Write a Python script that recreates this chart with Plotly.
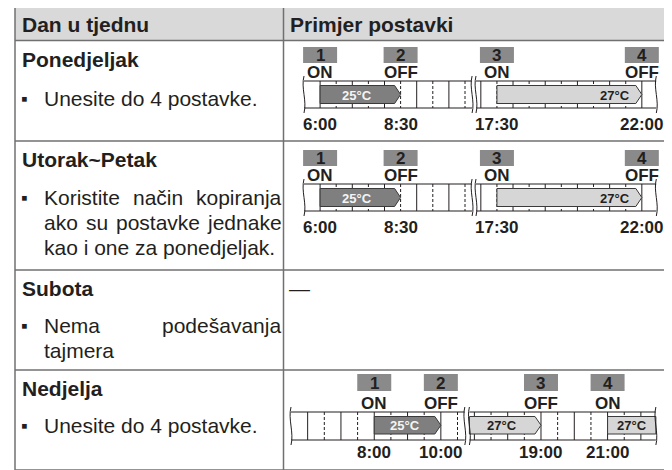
import plotly.graph_objects as go

W, H = 672, 470

# ---------------- data ----------------
header_labels = ["Dan u tjednu", "Primjer postavki"]
day_titles = ["Ponedjeljak", "Utorak~Petak", "Subota", "Nedjelja"]
day_notes = [
    ["Unesite do 4 postavke."],
    ["Koristite način kopiranja", "ako su postavke jednake", "kao i one za ponedjeljak."],
    ["Nema podešavanja", "tajmera"],
    ["Unesite do 4 postavke."],
]
saturday_example = "—"

setting_numbers = ["1", "2", "3", "4"]

weekday_times = [6.0, 8.5, 17.5, 22.0]
weekday_time_labels = ["6:00", "8:30", "17:30", "22:00"]
weekday_actions = ["ON", "OFF", "ON", "OFF"]
weekday_run_start = [6.0, 17.5]
weekday_run_end = [8.5, 22.0]
weekday_run_temp = ["25°C", "27°C"]

sunday_times = [8.0, 10.0, 19.0, 21.0]
sunday_time_labels = ["8:00", "10:00", "19:00", "21:00"]
sunday_actions = ["ON", "OFF", "OFF", "ON"]
sunday_run_start = [8.0, None, 21.0]   # None: already running at the start of the visible window
sunday_run_end = [10.0, 19.0, None]    # None: still running at the end of the visible window
sunday_run_temp = ["25°C", "27°C", "27°C"]

# visible parts of the day (hours) on either side of the break
left_window = [5.5, 10.72]
right_window = [16.85, 22.45]

# ---------------- style ----------------
FONT = "Liberation Sans, Arial, Helvetica, sans-serif"
TEXT = "#231f20"
BORDER = "#707070"
HEADER_FILL = "#d9d9d9"
BOX_FILL = "#8a8a8a"
DARK_FILL = "#7f7f7f"
LIGHT_FILL = "#d6d6d6"
EDGE = "#3a3a3a"
LINE = "#231f20"

TITLE_SIZE = 21
BODY_SIZE = 21
DIAG_SIZE = 17
NUM_SIZE = 17
TEMP_SIZE = 13

# the page places the figure 8 px from the top-left corner of the window
OFF = 8

table_x = [15, 283.5, 665]
row_lines = [7, 40.5, 141, 270, 370, 470]
header_y = 24
title_y = [59, 159, 288, 388]
note_y = [[98], [197, 222, 247], [325, 350], [425]]
text_left = 20
note_left = 42
note_right = 279

# time-axis segments: window-pixel position of window start and pixels per hour
segments = {
    "x2": dict(w=left_window, p0=304.0, pxh=32.2),
    "x3": dict(w=right_window, p0=476.0, pxh=32.2),
    "x4": dict(w=left_window, p0=291.0, pxh=33.3),
    "x5": dict(w=right_window, p0=469.4, pxh=33.3),
}

diagrams = [
    dict(axes=("x2", "x3"), times=weekday_times, labels=weekday_time_labels,
         actions=weekday_actions, rs=weekday_run_start, re=weekday_run_end,
         rt=weekday_run_temp, temp_align=["center", "right"],
         box_top=47, box_h=16, act_y=72, bar=(81, 108), arr=(85.5, 103.5), lab_y=124),
    dict(axes=("x2", "x3"), times=weekday_times, labels=weekday_time_labels,
         actions=weekday_actions, rs=weekday_run_start, re=weekday_run_end,
         rt=weekday_run_temp, temp_align=["center", "right"],
         box_top=150, box_h=16, act_y=175, bar=(184, 211), arr=(188.5, 206.5), lab_y=227),
    dict(axes=("x4", "x5"), times=sunday_times, labels=sunday_time_labels,
         actions=sunday_actions, rs=sunday_run_start, re=sunday_run_end,
         rt=sunday_run_temp, temp_align=["center", "center", "center"],
         box_top=374, box_h=17, act_y=403, bar=(412, 440), arr=(416.5, 434), lab_y=452),
]

# Arial advance widths (per 1000 em) used for justified lines
AW = {' ': 278, 'a': 556, 'c': 500, 'č': 500, 'd': 556, 'e': 556, 'i': 222, 'j': 222,
      'k': 500, 'l': 222, 'm': 833, 'n': 556, 'o': 556, 'p': 556, 'r': 333, 's': 500,
      'š': 500, 't': 278, 'u': 556, 'v': 500, 'z': 500, 'K': 667, 'N': 722, '.': 278}


def text_w(s, size):
    return sum(AW.get(c, 556) for c in s) * size / 1000.0


shapes = []
annotations = []


def ann(text, x, y, xref="x", size=BODY_SIZE, bold=False, color=TEXT, xanchor="left"):
    annotations.append(dict(
        text=text, x=x, y=y, xref=xref, yref="y", showarrow=False,
        xanchor=xanchor, yanchor="middle",
        font=dict(family=FONT, size=size, color=color, weight=700 if bold else 400),
    ))


def line(x0, y0, x1, y1, xref="x", color=LINE, width=1, dash="solid"):
    shapes.append(dict(type="line", xref=xref, yref="y", x0=x0, y0=y0, x1=x1, y1=y1,
                       line=dict(color=color, width=width, dash=dash)))


# ---------------- table ----------------
shapes.append(dict(type="rect", xref="x", yref="y", x0=table_x[0], x1=table_x[2],
                   y0=row_lines[0], y1=row_lines[1], fillcolor=HEADER_FILL,
                   line=dict(width=0), layer="below"))
for yv in row_lines:
    line(table_x[0], yv, table_x[2], yv, color=BORDER, width=1.5)
for xv in table_x:
    line(xv, row_lines[0], xv, row_lines[-1], color=BORDER, width=1.5)

ann(header_labels[0], text_left, header_y, size=TITLE_SIZE, bold=True)
ann(header_labels[1], table_x[1] + 4.5, header_y, size=TITLE_SIZE, bold=True)

for i, title in enumerate(day_titles):
    ann(title, text_left, title_y[i], size=TITLE_SIZE, bold=True)
    lines_ = day_notes[i]
    ann("▪", text_left - 1, note_y[i][0], size=BODY_SIZE - 2)
    for j, ln in enumerate(lines_):
        words = ln.split(" ")
        justify = j < len(lines_) - 1 and len(words) > 1
        if not justify:
            ann(ln, note_left, note_y[i][j])
            continue
        total = sum(text_w(w, BODY_SIZE) for w in words)
        gap = (note_right - note_left - total) / (len(words) - 1)
        xcur = note_left
        for w in words:
            ann(w, xcur, note_y[i][j])
            xcur += text_w(w, BODY_SIZE) + gap

ann(saturday_example, table_x[1] + 3.5, title_y[2], size=BODY_SIZE)

# ---------------- timelines ----------------
def seg_for(axes, t):
    return axes[0] if t <= left_window[1] else axes[1]


def hrs(ax, px):
    return px / segments[ax]["pxh"]


for d in diagrams:
    top, bot = d["bar"]
    atop, abot = d["arr"]
    amid = (atop + abot) / 2.0
    for ax in d["axes"]:
        w0, w1 = segments[ax]["w"]
        line(w0, top, w1, top, xref=ax, width=1.2)
        line(w0, bot, w1, bot, xref=ax, width=1.2)
        k = int(w0 * 2) + 1
        while k / 2.0 < w1 - 0.1:
            t = k / 2.0
            if t > w0 + 0.1:
                half = (k % 2 == 1)
                line(t, top, t, bot, xref=ax, width=1,
                     dash="3px,2px" if half else "solid")
            k += 1

    # temperature runs
    for r in range(len(d["rt"])):
        s, e = d["rs"][r], d["re"][r]
        ax = seg_for(d["axes"], s if s is not None else e)
        w0, w1 = segments[ax]["w"]
        tip = e is not None
        s = w0 if s is None else s
        e = w1 if e is None else e
        dark = d["rt"][r] == "25°C"
        hh = hrs(ax, 6)
        if tip:
            path = (f"M {s},{atop} L {e - hh},{atop} L {e},{amid} "
                    f"L {e - hh},{abot} L {s},{abot} Z")
        else:
            path = f"M {s},{atop} L {e},{atop} L {e},{abot} L {s},{abot} Z"
        shapes.append(dict(type="path", xref=ax, yref="y", path=path,
                           fillcolor=DARK_FILL if dark else LIGHT_FILL,
                           line=dict(color=EDGE, width=1)))
        body_end = e - hh if tip else e
        if d["temp_align"][r] == "right":
            ann(d["rt"][r], body_end - hrs(ax, 4), amid + 0.5, xref=ax, size=TEMP_SIZE,
                bold=True, color=TEXT, xanchor="right")
        else:
            ann(d["rt"][r], (s + body_end) / 2.0, amid + 0.5, xref=ax, size=TEMP_SIZE,
                bold=True, color="#f4f4f4" if dark else TEXT, xanchor="center")

    # wavy break marks at the ends of each visible window
    for ax in d["axes"]:
        for t in segments[ax]["w"]:
            dx = hrs(ax, 3.2)
            path = (f"M {t},{top - 5} C {t - dx},{top + 7} {t + dx},{bot - 7} {t},{bot + 5}")
            shapes.append(dict(type="path", xref=ax, yref="y", path=path,
                               line=dict(color=LINE, width=1)))

    # setting markers
    for n, t in enumerate(d["times"]):
        ax = seg_for(d["axes"], t)
        bw = hrs(ax, 34)
        shapes.append(dict(type="rect", xref=ax, yref="y", x0=t - bw / 2, x1=t + bw / 2,
                           y0=d["box_top"], y1=d["box_top"] + d["box_h"],
                           fillcolor=BOX_FILL, line=dict(width=0)))
        ann(setting_numbers[n], t, d["box_top"] + d["box_h"] / 2.0 + 0.5, xref=ax,
            size=NUM_SIZE, bold=True, xanchor="center")
        ann(d["actions"][n], t, d["act_y"], xref=ax, size=DIAG_SIZE, bold=True,
            xanchor="center")
        ann(d["labels"][n], t, d["lab_y"], xref=ax, size=DIAG_SIZE, bold=True,
            xanchor="center")

# ---------------- figure ----------------
fig = go.Figure()
for ax in ["x", "x2", "x3", "x4", "x5"]:
    fig.add_trace(go.Scatter(x=[None], y=[None], xaxis=ax, yaxis="y", mode="markers",
                             showlegend=False, hoverinfo="skip"))

layout = dict(
    width=W, height=H, margin=dict(l=0, r=0, t=0, b=0), autosize=False,
    paper_bgcolor="white", plot_bgcolor="rgba(0,0,0,0)", showlegend=False,
    xaxis=dict(range=[OFF, W + OFF], domain=[0, 1], visible=False, fixedrange=True),
    yaxis=dict(range=[H + OFF, OFF], domain=[0, 1], visible=False, fixedrange=True),
    shapes=shapes, annotations=annotations,
)
for ax, seg in segments.items():
    w0, w1 = seg["w"]
    p_start = seg["p0"]
    p_end = seg["p0"] + (w1 - w0) * seg["pxh"]
    d0 = max(float(OFF), p_start - 25)
    d1 = min(float(W + OFF), p_end + 16)
    r0 = w0 + (d0 - p_start) / seg["pxh"]
    r1 = w0 + (d1 - p_start) / seg["pxh"]
    layout["xaxis" + ax[1:]] = dict(range=[r0, r1],
                                     domain=[(d0 - OFF) / W, (d1 - OFF) / W], anchor="y",
                                     visible=False, fixedrange=True)

fig.update_layout(**layout)
fig.write_html("out.html")
